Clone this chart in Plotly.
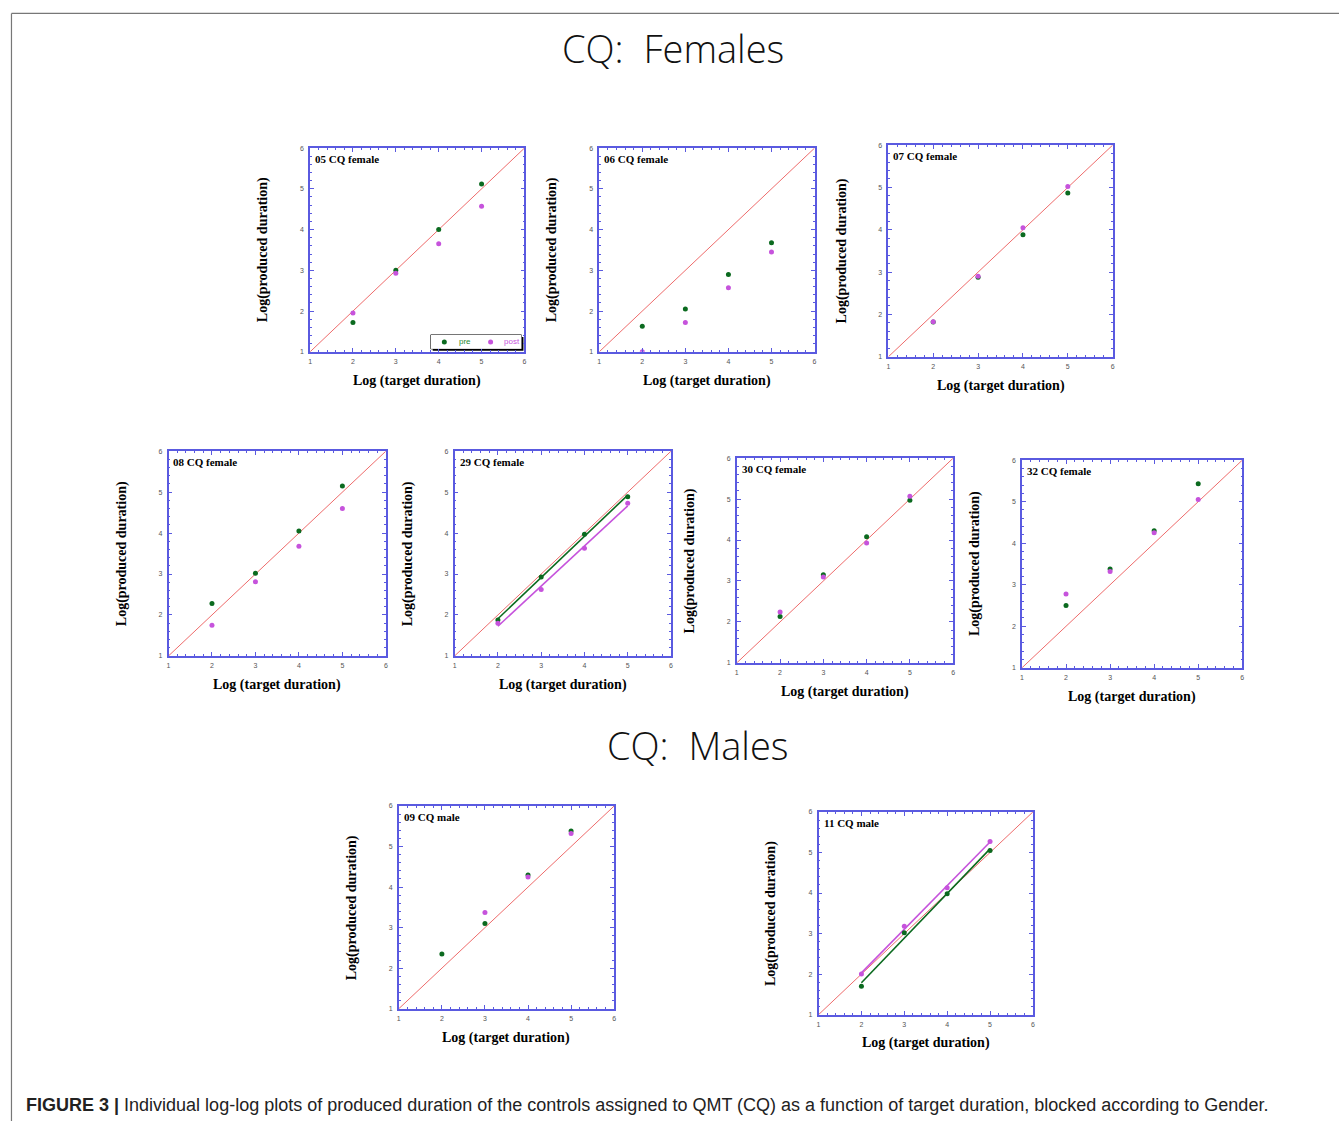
import numpy as np
import plotly.graph_objects as go

W, H = 1341, 1124

# ---------------- data ----------------
target = [2, 3, 4, 5]
panel_names = ["05 CQ female", "06 CQ female", "07 CQ female",
               "08 CQ female", "29 CQ female", "30 CQ female", "32 CQ female",
               "09 CQ male", "11 CQ male"]
pre_05 = [1.72, 3.00, 4.00, 5.12]
post_05 = [1.95, 2.93, 3.65, 4.57]
pre_06 = [1.63, 2.05, 2.90, 3.68]
post_06 = [1.00, 1.72, 2.57, 3.45]
pre_07 = [1.82, 2.88, 3.88, 4.87]
post_07 = [1.83, 2.90, 4.05, 5.02]
pre_08 = [2.28, 3.02, 4.05, 5.15]
post_08 = [1.75, 2.81, 3.68, 4.60]
pre_29 = [1.88, 2.93, 3.97, 4.89]
post_29 = [1.80, 2.62, 3.63, 4.73]
pre_30 = [2.13, 3.15, 4.08, 4.97]
post_30 = [2.24, 3.10, 3.93, 5.07]
pre_32 = [2.50, 3.38, 4.30, 5.43]
post_32 = [2.78, 3.32, 4.25, 5.05]
pre_09 = [2.35, 3.10, 4.30, 5.38]
post_09 = [None, 3.37, 4.25, 5.32]
pre_11 = [1.70, 3.02, 3.98, 5.05]
post_11 = [2.00, 3.18, 4.13, 5.27]
pre_series = [pre_05, pre_06, pre_07, pre_08, pre_29, pre_30, pre_32, pre_09, pre_11]
post_series = [post_05, post_06, post_07, post_08, post_29, post_30, post_32, post_09, post_11]
fit_panels = ["29 CQ female", "11 CQ male"]
legend_labels = ["pre", "post"]
axis_range = [1, 6]
tick_vals = [1, 2, 3, 4, 5, 6]
x_title = "Log (target duration)"
y_title = "Log(produced duration)"
group_titles = ["CQ:  Females", "CQ:  Males"]
caption_bold = "FIGURE 3 |"
caption_text = " Individual log-log plots of produced duration of the controls assigned to QMT (CQ) as a function of target duration, blocked according to Gender."

# ---------------- layout (pixel boxes: left, right, top, bottom) ----------------
boxes = [(309, 524, 145, 350), (599, 815, 145, 350), (889, 1114, 142, 355),
         (167, 385, 450, 656), (454, 671, 450, 656), (737, 954, 457, 663), (1023, 1244, 459, 668),
         (398, 614, 807, 1011), (819, 1034, 813, 1017)]
legend_box = (430, 521, 333, 347)

PRE_C = "#0b6a1f"
POST_C = "#c653dc"
PRE_TXT = "#1f8a2f"
FRAME_C = "#5a5ae0"
DIAG_C = "#ee6b6b"
SERIF = "Liberation Serif, Times New Roman, serif"

def px(x):
    return x / W

def py(y):
    return 1 - y / H

fig = go.Figure()
layout = {}
annotations = []
shapes = []

for i, (name, pre, post, box) in enumerate(zip(panel_names, pre_series, post_series, boxes)):
    l, r, t, b = box
    k = "" if i == 0 else str(i + 1)
    xa, ya = "x" + k, "y" + k
    axis_common = dict(range=axis_range, tickvals=tick_vals, showgrid=False, zeroline=False,
                       showline=True, linecolor=FRAME_C, linewidth=1.5, mirror="ticks",
                       ticks="inside", ticklen=4, tickcolor=FRAME_C, tickwidth=1,
                       minor=dict(dtick=0.2, ticks="inside", ticklen=2, tickcolor=FRAME_C, tickwidth=1),
                       tickfont=dict(family="Liberation Sans, Arial", size=7, color="#555555"),
                       fixedrange=True)
    layout["xaxis" + k] = dict(domain=[px(l), px(r)], anchor=ya, ticklabelstandoff=2, **axis_common)
    layout["yaxis" + k] = dict(domain=[py(b), py(t)], anchor=xa, ticklabelstandoff=3, **axis_common)

    # identity line
    fig.add_trace(go.Scatter(x=axis_range, y=axis_range, mode="lines",
                             line=dict(color=DIAG_C, width=1), xaxis=xa, yaxis=ya,
                             showlegend=False, hoverinfo="skip"))
    if name in fit_panels:
        for ser, col in ((pre, PRE_C), (post, POST_C)):
            xs = np.array([tx for tx, v in zip(target, ser) if v is not None], float)
            ys = np.array([v for v in ser if v is not None], float)
            m, c = np.polyfit(xs, ys, 1)
            xl = np.array([xs.min(), xs.max()])
            fig.add_trace(go.Scatter(x=xl, y=m * xl + c, mode="lines",
                                     line=dict(color=col, width=1.6), xaxis=xa, yaxis=ya,
                                     showlegend=False, hoverinfo="skip"))
    fig.add_trace(go.Scatter(x=target, y=pre, mode="markers", name=legend_labels[0],
                             marker=dict(color=PRE_C, size=5), xaxis=xa, yaxis=ya, showlegend=False))
    fig.add_trace(go.Scatter(x=target, y=post, mode="markers", name=legend_labels[1],
                             marker=dict(color=POST_C, size=5), xaxis=xa, yaxis=ya, showlegend=False))

    # panel label
    annotations.append(dict(text="<b>%s</b>" % name, x=px(l + 3), y=py(t + 3), xref="paper", yref="paper",
                            xanchor="left", yanchor="top", showarrow=False,
                            font=dict(family=SERIF, size=11, color="black")))
    # axis titles
    annotations.append(dict(text="<b>%s</b>" % x_title, x=px((l + r) / 2), y=py(b + 29), xref="paper",
                            yref="paper", xanchor="center", yanchor="middle", showarrow=False,
                            font=dict(family=SERIF, size=14, color="black")))
    annotations.append(dict(text="<b>%s</b>" % y_title, x=px(l - 47), y=py((t + b) / 2), xref="paper",
                            yref="paper", xanchor="center", yanchor="middle", showarrow=False, textangle=-90,
                            font=dict(family=SERIF, size=14, color="black")))

# ---- small legend box in first panel (own overlay axis, range 0..1) ----
ll, lr, lt, lb = legend_box
shapes.append(dict(type="rect", xref="paper", yref="paper", x0=px(ll + 2), x1=px(lr + 2),
                   y0=py(lb + 2), y1=py(lt + 2), fillcolor="black", line=dict(width=0), layer="below"))
shapes.append(dict(type="rect", xref="paper", yref="paper", x0=px(ll), x1=px(lr),
                   y0=py(lb), y1=py(lt), fillcolor="white", line=dict(color="black", width=1), layer="below"))
layout["xaxis10"] = dict(domain=[px(ll), px(lr)], range=[0, 1], visible=False, anchor="y10", fixedrange=True)
layout["yaxis10"] = dict(domain=[py(lb), py(lt)], range=[0, 1], visible=False, anchor="x10", fixedrange=True)
fig.add_trace(go.Scatter(x=[0.15], y=[0.5], mode="markers", marker=dict(color=PRE_C, size=5),
                         xaxis="x10", yaxis="y10", showlegend=False, hoverinfo="skip"))
fig.add_trace(go.Scatter(x=[0.66], y=[0.5], mode="markers", marker=dict(color=POST_C, size=5),
                         xaxis="x10", yaxis="y10", showlegend=False, hoverinfo="skip"))
annotations.append(dict(text=legend_labels[0], x=0.29, y=0.5, xref="x10", yref="y10", xanchor="left",
                        yanchor="middle", showarrow=False,
                        font=dict(family="Liberation Sans, Arial", size=8, color=PRE_TXT)))
annotations.append(dict(text=legend_labels[1], x=0.79, y=0.5, xref="x10", yref="y10", xanchor="left",
                        yanchor="middle", showarrow=False,
                        font=dict(family="Liberation Sans, Arial", size=8, color=POST_C)))

# group titles
annotations.append(dict(text=group_titles[0], x=px(673), y=py(44), xref="paper", yref="paper",
                        xanchor="center", yanchor="middle", showarrow=False,
                        font=dict(family="Open Sans", size=38, color="#111111", weight=300)))
annotations.append(dict(text=group_titles[1], x=px(698), y=py(746), xref="paper", yref="paper",
                        xanchor="center", yanchor="middle", showarrow=False,
                        font=dict(family="Open Sans", size=38, color="#111111", weight=300)))
# caption
annotations.append(dict(text="<b>%s</b>%s" % (caption_bold, caption_text), x=px(22), y=py(1108),
                        xref="paper", yref="paper", xanchor="left", yanchor="middle", showarrow=False,
                        font=dict(family="Liberation Sans, Arial", size=18, color="#222222")))

# outer frame lines
shapes.append(dict(type="line", xref="paper", yref="paper", x0=px(9.5), x1=1, y0=py(9.5), y1=py(9.5),
                   line=dict(color="#777777", width=1.2)))
shapes.append(dict(type="line", xref="paper", yref="paper", x0=px(9.5), x1=px(9.5), y0=py(9.5), y1=0,
                   line=dict(color="#777777", width=1.2)))

fig.update_layout(width=W, height=H, margin=dict(l=0, r=0, t=0, b=0),
                  paper_bgcolor="white", plot_bgcolor="white", showlegend=False,
                  annotations=annotations, shapes=shapes, **layout)

fig.write_html("out.html", config={"displayModeBar": False},
               post_script="document.body.style.margin='0';document.body.style.overflow='hidden';")
